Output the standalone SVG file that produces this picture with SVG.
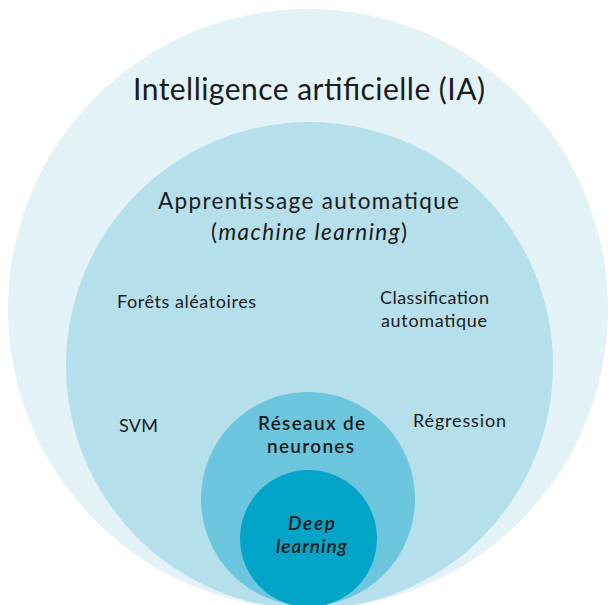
<svg xmlns="http://www.w3.org/2000/svg" width="610" height="605" viewBox="0 0 610 605">
  <style>
    text { font-family: Lato, "Open Sans", "Liberation Sans", sans-serif; fill: #1b1b1b; text-anchor: middle; }
    .title { font-size: 30px; }
    .sub { font-size: 22.5px; }
    .item { font-size: 18px; }
    .nn { font-size: 19px; font-weight: 600; }
    .dl { font-size: 19px; font-weight: 600; font-style: italic; }
    .it { font-style: italic; }
  </style>
  <rect width="610" height="605" fill="#ffffff"/>

  <!-- Artificial intelligence: outermost disc -->
  <g id="ia">
    <circle cx="308" cy="309" r="300" fill="#e2f2f7"/>
    <text class="title" x="309" y="100" textLength="352" lengthAdjust="spacing">Intelligence artificielle (IA)</text>
  </g>

  <!-- Machine learning disc -->
  <g id="ml">
    <circle cx="309.5" cy="365.5" r="243.5" fill="#b4dfeb"/>
    <text class="sub" x="308.5" y="209" textLength="301" lengthAdjust="spacing">Apprentissage automatique</text>
    <text class="sub" x="309" y="240" textLength="196" lengthAdjust="spacing">(<tspan class="it">machine learning</tspan>)</text>
  </g>

  <!-- Examples of machine learning methods -->
  <g id="forets">
    <text class="item" x="186.5" y="308" textLength="139" lengthAdjust="spacing">Forêts aléatoires</text>
  </g>
  <g id="classification">
    <text class="item" x="434.5" y="304" textLength="109" lengthAdjust="spacing">Classification</text>
    <text class="item" x="434" y="327" textLength="106" lengthAdjust="spacing">automatique</text>
  </g>
  <g id="svm">
    <text class="item" x="138.5" y="432" textLength="39" lengthAdjust="spacing">SVM</text>
  </g>
  <g id="regression">
    <text class="item" x="459.5" y="427" textLength="93" lengthAdjust="spacing">Régression</text>
  </g>

  <!-- Neural networks disc -->
  <g id="reseaux">
    <circle cx="308" cy="499" r="107" fill="#6bc5dd"/>
    <text class="nn" x="311.5" y="430" textLength="107" lengthAdjust="spacing">Réseaux de</text>
    <text class="nn" x="310.5" y="453" textLength="87" lengthAdjust="spacing">neurones</text>
  </g>

  <!-- Deep learning disc -->
  <g id="deep">
    <circle cx="308.5" cy="538.5" r="68.5" fill="#02a4c7"/>
    <text class="dl" x="311.5" y="530" textLength="47" lengthAdjust="spacing">Deep</text>
    <text class="dl" x="311.5" y="553" textLength="71" lengthAdjust="spacing">learning</text>
  </g>
</svg>
